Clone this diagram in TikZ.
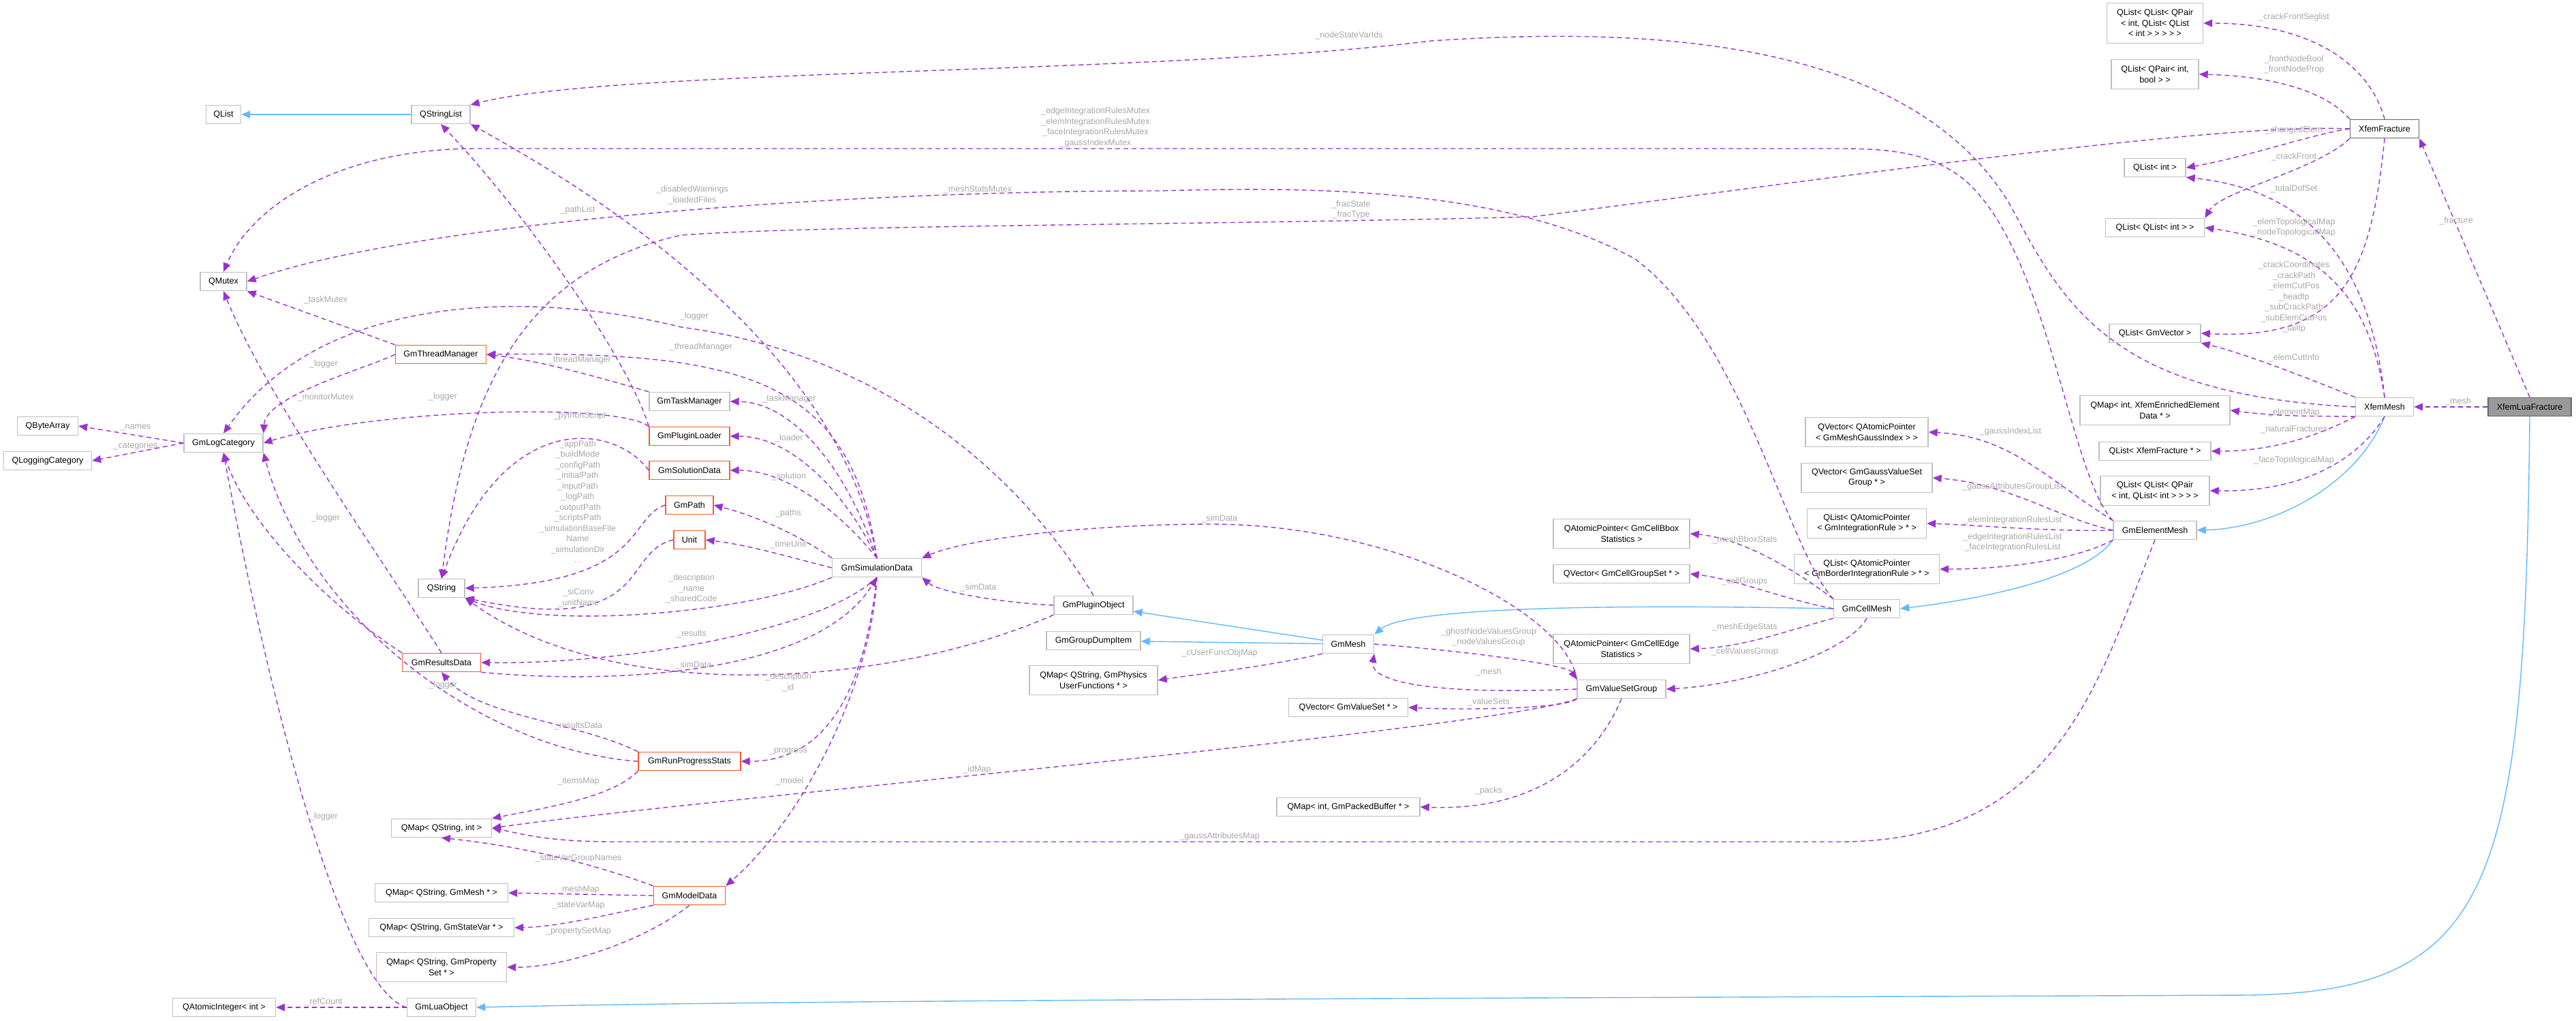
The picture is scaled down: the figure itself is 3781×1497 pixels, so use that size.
\documentclass[tikz,border=0pt]{standalone}
\usepackage{fontspec}
\newfontfamily\nf{Liberation Sans}
\usetikzlibrary{arrows.meta}
\definecolor{ep}{HTML}{9A32CD}
\definecolor{ib}{HTML}{63B8FF}
\definecolor{bg}{HTML}{BFBFBF}
\definecolor{tr}{HTML}{FF5A2A}
\definecolor{lg}{HTML}{A6A6A6}
\begin{document}
\begin{tikzpicture}[x=1pt,y=-1pt,
 box/.style={draw=bg,fill=white,line width=1.4,minimum height=27,inner sep=2,align=center,font=\nf\fontsize{12.5}{15.5}\selectfont},
 tb/.style={box,draw=tr},
 mem/.style={draw=ep,line width=1.4,dash pattern=on 7 off 5,-{Triangle[length=13,width=11]}},
 inh/.style={draw=ib,line width=1.4,-{Triangle[length=13,width=11]}},
 lb/.style={text=lg,align=center,inner sep=0,font=\nf\fontsize{12.5}{15.5}\selectfont}]
\useasboundingbox (0,0) rectangle (3781,1497);
% nodes
\node[box,minimum width=51] (qlist) at (328,168) {QList};
\node[box,minimum width=86] (qsl) at (647,168) {QStringList};
\node[box,minimum width=68] (qmx) at (328,413) {QMutex};
\node[tb,minimum width=133] (gtm) at (647,520) {GmThreadManager};
\node[box,minimum width=89] (qba) at (70,625) {QByteArray};
\node[box,minimum width=116] (gmlc) at (328,650) {GmLogCategory};
\node[box,minimum width=129] (qlc) at (70,676) {QLoggingCategory};
\node[box,minimum width=118] (gtk) at (1012,589) {GmTaskManager};
\node[tb,minimum width=118] (gpl) at (1012,640) {GmPluginLoader};
\node[tb,minimum width=118] (gsd) at (1012,690) {GmSolutionData};
\node[tb,minimum width=70] (gp) at (1012,741) {GmPath};
\node[tb,minimum width=46] (unit) at (1012,792) {Unit};
\node[box,minimum width=68] (qstr) at (648,863) {QString};
\node[box,minimum width=131] (gsim) at (1287,833) {GmSimulationData};
\node[tb,minimum width=115] (grd) at (648,972) {GmResultsData};
\node[tb,minimum width=150] (grps) at (1012,1117) {GmRunProgressStats};
\node[box,minimum width=147] (qmsi) at (648,1215) {QMap< QString, int >};
\node[tb,minimum width=105] (gmd) at (1012,1314) {GmModelData};
\node[box,minimum width=195] (qmm) at (648,1310) {QMap< QString, GmMesh * >};
\node[box,minimum width=213] (qmsv) at (648,1361) {QMap< QString, GmStateVar * >};
\node[box,minimum width=191,minimum height=43] (qmps) at (648,1419) {QMap< QString, GmProperty\\Set * >};
\node[box,minimum width=101] (glo) at (648,1478) {GmLuaObject};
\node[box,minimum width=151] (qai) at (329,1478) {QAtomicInteger< int >};
\node[box,minimum width=116] (gpo) at (1605,888) {GmPluginObject};
\node[box,minimum width=138] (ggdi) at (1605,940) {GmGroupDumpItem};
\node[box,minimum width=188,minimum height=43] (qmph) at (1605,998) {QMap< QString, GmPhysics\\UserFunctions * >};
\node[box,minimum width=75] (gmmesh) at (1979,945) {GmMesh};
\node[box,minimum width=175] (qvvs) at (1979,1038) {QVector< GmValueSet * >};
\node[box,minimum width=210] (qmpb) at (1979,1184) {QMap< int, GmPackedBuffer * >};
\node[box,minimum width=200,minimum height=43] (qapb) at (2380,783) {QAtomicPointer< GmCellBbox\\Statistics >};
\node[box,minimum width=200] (qvcg) at (2380,842) {QVector< GmCellGroupSet * >};
\node[box,minimum width=200,minimum height=43] (qape) at (2380,952) {QAtomicPointer< GmCellEdge\\Statistics >};
\node[box,minimum width=130] (gvsg) at (2380,1011) {GmValueSetGroup};
\node[box,minimum width=97] (gcm) at (2740,893) {GmCellMesh};
\node[box,minimum width=180,minimum height=43] (qvgi) at (2740,634) {QVector< QAtomicPointer\\< GmMeshGaussIndex > >};
\node[box,minimum width=192,minimum height=43] (qvgv) at (2740,701) {QVector< GmGaussValueSet\\Group * >};
\node[box,minimum width=175,minimum height=43] (qlir) at (2740,768) {QList< QAtomicPointer\\< GmIntegrationRule > * >};
\node[box,minimum width=213,minimum height=43] (qlbr) at (2740,835) {QList< QAtomicPointer\\< GmBorderIntegrationRule > * >};
\node[box,minimum width=122] (gem) at (3163,778) {GmElementMesh};
\node[box,minimum width=85] (xm) at (3500,597) {XfemMesh};
\node[box,minimum width=122,fill={rgb,255:red,153;green,153;blue,153},draw={rgb,255:red,102;green,102;blue,102}] (xlf) at (3713,597) {XfemLuaFracture};
\node[box,minimum width=101,draw={rgb,255:red,102;green,102;blue,102}] (xf) at (3500,189) {XfemFracture};
\node[box,minimum width=141,minimum height=59] (ql3) at (3163,34) {QList< QList< QPair\\< int, QList< QList\\< int > > > > >};
\node[box,minimum width=128,minimum height=43] (qlpb) at (3163,109) {QList< QPair< int,\\bool > >};
\node[box,minimum width=90] (qli) at (3163,246) {QList< int >};
\node[box,minimum width=145] (qlqli) at (3163,334) {QList< QList< int > >};
\node[box,minimum width=134] (qlgv) at (3163,489) {QList< GmVector >};
\node[box,minimum width=220,minimum height=43] (qmxe) at (3163,602) {QMap< int, XfemEnrichedElement\\Data * >};
\node[box,minimum width=164] (qlxf) at (3163,662) {QList< XfemFracture * >};
\node[box,minimum width=160,minimum height=43] (qlqp) at (3163,720) {QList< QList< QPair\\< int, QList< int > > > >};
% inheritance
\draw[inh] (qsl) -- (qlist);
\draw[inh] (gmmesh) -- (gpo);
\draw[inh] (gmmesh) -- (ggdi);
\draw[inh] (gcm.west) .. controls (2300,885) and (2060,895) .. (gmmesh.north east);
\draw[inh] (gem.south west) .. controls (3060,850) and (2900,880) .. (gcm.east);
\draw[inh] (xm.south) .. controls (3460,710) and (3340,775) .. (gem.east);
\draw[inh] (xlf.south) .. controls (3706,1300) and (3660,1455) .. (3300,1460) .. controls (2400,1464) and (1200,1466) .. (glo.east);
% members
\draw[mem] (gmlc.west) -- (qba.east);
\draw[mem] (gmlc.west) -- (qlc.east);
\draw[mem] (gtm.north west) -- (qmx.south east);
\draw[mem] (gtm.west) .. controls (540,540) and (390,580) .. (gmlc.north east);
\draw[mem] (grd.north) .. controls (560,820) and (390,580) .. (qmx.south);
\draw[mem] (grd.north west) .. controls (470,880) and (360,760) .. (gmlc.south);
\draw[mem] (gpl.north west) .. controls (910,590) and (550,600) .. (gmlc.east);
\draw[mem] (gpl.north west) .. controls (920,520) and (760,300) .. (qsl.south);
\draw[mem] (gsd.west) .. controls (900,620) and (740,600) .. (qstr.north);
\draw[mem] (gp.west) .. controls (920,760) and (950,855) .. (qstr.east);
\draw[mem] (unit.west) .. controls (910,810) and (960,935) .. (qstr.south east);
\draw[mem] (gsim.north) .. controls (1250,600) and (1050,380) .. (qsl.south east);
\draw[mem] (gsim.north) .. controls (1250,560) and (1100,515) .. (gtm.east);
\draw[mem] (gsim.north) .. controls (1240,680) and (1160,590) .. (gtk.east);
\draw[mem] (gsim.north) .. controls (1240,720) and (1160,640) .. (gpl.east);
\draw[mem] (gsim.north) .. controls (1240,760) and (1160,690) .. (gsd.east);
\draw[mem] (gsim.north west) .. controls (1180,790) and (1120,760) .. (gp.east);
\draw[mem] (gsim.west) .. controls (1150,815) and (1100,800) .. (unit.east);
\draw[mem] (gsim.south west) .. controls (1100,900) and (800,925) .. (qstr.south east);
\draw[mem] (gsim.south) .. controls (1200,930) and (900,975) .. (grd.east);
\draw[mem] (grd.south east) .. controls (900,1005) and (1200,990) .. (gsim.south);
\draw[mem] (gpo.south west) .. controls (1300,1010) and (900,1035) .. (qstr.south east);
\draw[mem] (gpo.west) .. controls (1480,885) and (1380,870) .. (gsim.south east);
\draw[mem] (gsim.south) .. controls (1280,1000) and (1180,1200) .. (gmd.north east);
\draw[mem] (gsim.south) .. controls (1270,1000) and (1220,1117) .. (grps.east);
\draw[mem] (gvsg.north west) .. controls (2300,900) and (2050,770) .. (1780,769) .. controls (1600,769) and (1420,790) .. (gsim.north east);
\draw[mem] (gpo.north) .. controls (1500,700) and (1300,520) .. (1000,480) .. controls (800,430) and (480,420) .. (gmlc.north);
\draw[mem] (gtk.north west) .. controls (900,560) and (800,530) .. (gtm.east);
\draw[mem] (glo.west) .. controls (500,1450) and (390,1000) .. (gmlc.south);
\draw[mem] (grps.west) .. controls (700,1100) and (450,900) .. (gmlc.south east);
\draw[mem] (grps.north west) .. controls (850,1060) and (700,1050) .. (grd.south);
\draw[mem] (grps.south west) .. controls (900,1170) and (800,1185) .. (qmsi.north east);
\draw[mem] (gvsg.south west) .. controls (2200,1070) and (1000,1175) .. (qmsi.east);
\draw[mem] (gem.south) .. controls (3080,1000) and (3020,1235) .. (2700,1235) -- (900,1235) .. controls (800,1235) and (760,1222) .. (qmsi.east);
\draw[mem] (gmd.north west) .. controls (850,1260) and (750,1240) .. (qmsi.south);
\draw[mem] (gmd.west) -- (qmm.east);
\draw[mem] (gmd.south west) .. controls (900,1340) and (820,1360) .. (qmsv.east);
\draw[mem] (gmd.south) .. controls (940,1385) and (820,1420) .. (qmps.east);
\draw[mem] (glo.west) -- (qai.east);
\draw[mem] (gmmesh.south west) .. controls (1850,980) and (1750,990) .. (qmph.east);
\draw[mem] (gmmesh.east) .. controls (2150,955) and (2300,975) .. (gvsg.north west);
\draw[mem] (gvsg.west) .. controls (2100,1020) and (2010,1000) .. (gmmesh.south east);
\draw[mem] (gvsg.south west) .. controls (2300,1040) and (2150,1042) .. (qvvs.east);
\draw[mem] (gvsg.south) .. controls (2340,1120) and (2250,1190) .. (qmpb.east);
\draw[mem] (gcm.north west) .. controls (2640,840) and (2560,790) .. (qapb.east);
\draw[mem] (gcm.west) .. controls (2620,880) and (2550,850) .. (qvcg.east);
\draw[mem] (gcm.south west) .. controls (2640,920) and (2560,950) .. (qape.east);
\draw[mem] (gcm.south) .. controls (2710,960) and (2560,1005) .. (gvsg.east);
\draw[mem] (gem.north west) .. controls (3000,700) and (2950,640) .. (qvgi.east);
\draw[mem] (gem.west) .. controls (3020,760) and (2950,710) .. (qvgv.east);
\draw[mem] (gem.west) .. controls (3000,780) and (2900,770) .. (qlir.east);
\draw[mem] (gem.south west) .. controls (3050,820) and (2950,835) .. (qlbr.east);
\draw[mem] (gem.north west) .. controls (3040,700) and (3010,400) .. (2900,280) .. controls (2850,225) and (2780,218) .. (2700,218) -- (700,218) .. controls (500,218) and (370,300) .. (qmx.north);
\draw[mem] (gcm.north west) .. controls (2620,800) and (2560,500) .. (2400,380) .. controls (2200,270) and (1900,275) .. (1700,280) .. controls (1200,280) and (600,330) .. (qmx.east);
\draw[mem] (xf.west) .. controls (3250,180) and (2700,260) .. (2250,318) .. controls (1800,330) and (1200,330) .. (1000,345) .. controls (750,400) and (680,600) .. (qstr.north);
\draw[mem] (xm.west) .. controls (3100,580) and (3030,450) .. (2950,300) .. controls (2800,50) and (2400,40) .. (2100,60) .. controls (1700,110) and (900,100) .. (qsl.north east);
\draw[mem] (xf.north) .. controls (3480,100) and (3400,34) .. (ql3.east);
\draw[mem] (xf.north west) .. controls (3420,140) and (3350,112) .. (qlpb.east);
\draw[mem] (xf.west) .. controls (3400,195) and (3300,230) .. (qli.east);
\draw[mem] (xf.south west) .. controls (3400,250) and (3260,280) .. (qlqli.north east);
\draw[mem] (xf.south) .. controls (3480,400) and (3440,500) .. (qlgv.east);
\draw[mem] (xm.north) .. controls (3480,400) and (3400,280) .. (qli.south east);
\draw[mem] (xm.north) .. controls (3480,450) and (3420,360) .. (qlqli.east);
\draw[mem] (xm.north west) .. controls (3400,560) and (3300,520) .. (qlgv.south east);
\draw[mem] (xm.south west) .. controls (3400,610) and (3350,612) .. (qmxe.east);
\draw[mem] (xm.south west) .. controls (3420,630) and (3350,662) .. (qlxf.east);
\draw[mem] (xm.south) .. controls (3470,660) and (3400,722) .. (qlqp.east);
\draw[mem] (xlf.west) -- (xm.east);
\draw[mem] (xlf.north) -- (xf.south east);
% labels
\node[lb] (l1) at (199,627) {\_names};
\node[lb] (l2) at (199,654) {\_categories};
\node[lb] (l3) at (478,440) {\_taskMutex};
\node[lb] (l4) at (475,534) {\_logger};
\node[lb] (l5) at (478,583) {\_monitorMutex};
\node[lb] (l6) at (650,582) {\_logger};
\node[lb] (l7) at (851,610) {\_pythonScript};
\node[lb] (l8) at (848,736) {\_appPath\\\_buildMode\\\_configPath\\\_initialPath\\\_inputPath\\\_logPath\\\_outputPath\\\_scriptsPath\\\_simulationBaseFile\\Name\\\_simulationDir\\...};
\node[lb] (l9) at (478,760) {\_logger};
\node[lb] (l10) at (848,308) {\_pathList};
\node[lb] (l11) at (1016,286) {\_disabledWarnings\\\_loadedFiles};
\node[lb] (l12) at (1435,278) {\_meshStatsMutex};
\node[lb] (l13) at (1983,308) {\_fracState\\\_fracType};
\node[lb] (l14) at (1608,187) {\_edgeIntegrationRulesMutex\\\_elemIntegrationRulesMutex\\\_faceIntegrationRulesMutex\\\_gaussIndexMutex};
\node[lb] (l15) at (1980,52) {\_nodeStateVarIds};
\node[lb] (l16) at (1019,464) {\_logger};
\node[lb] (l17) at (1029,509) {\_threadManager};
\node[lb] (l18) at (851,528) {\_threadManager};
\node[lb] (l19) at (1158,585) {\_taskManager};
\node[lb] (l20) at (1158,643) {\_loader};
\node[lb] (l21) at (1158,699) {\_solution};
\node[lb] (l22) at (1157,753) {\_paths};
\node[lb] (l23) at (1157,799) {\_timeUnit};
\node[lb] (l24) at (849,877) {\_siConv\\\_unitName};
\node[lb] (l25) at (1015,864) {\_description\\\_name\\\_sharedCode};
\node[lb] (l26) at (1015,930) {\_results};
\node[lb] (l27) at (1018,976) {\_simData};
\node[lb] (l28) at (1157,1001) {\_description\\\_id};
\node[lb] (l29) at (1436,862) {\_simData};
\node[lb] (l30) at (849,1065) {\_resultsData};
\node[lb] (l31) at (650,1005) {\_logger};
\node[lb] (l32) at (1157,1102) {\_progress};
\node[lb] (l33) at (1159,1146) {\_model};
\node[lb] (l34) at (849,1146) {\_itemsMap};
\node[lb] (l35) at (1434,1129) {\_idMap};
\node[lb] (l36) at (849,1259) {\_stateVarGroupNames};
\node[lb] (l37) at (849,1305) {\_meshMap};
\node[lb] (l38) at (849,1328) {\_stateVarMap};
\node[lb] (l39) at (849,1366) {\_propertySetMap};
\node[lb] (l40) at (475,1198) {\_logger};
\node[lb] (l41) at (475,1470) {\_refCount};
\node[lb] (l42) at (1790,761) {\_simData};
\node[lb] (l43) at (1790,958) {\_cUserFuncObjMap};
\node[lb] (l44) at (2185,935) {\_ghostNodeValuesGroup\\\_nodeValuesGroup};
\node[lb] (l45) at (2185,986) {\_mesh};
\node[lb] (l46) at (2185,1030) {\_valueSets};
\node[lb] (l47) at (2185,1160) {\_packs};
\node[lb] (l48) at (1790,1227) {\_gaussAttributesMap};
\node[lb] (l49) at (2561,792) {\_meshBboxStats};
\node[lb] (l50) at (2561,853) {\_cellGroups};
\node[lb] (l51) at (2561,920) {\_meshEdgeStats};
\node[lb] (l52) at (2561,956) {\_cellValuesGroup};
\node[lb] (l53) at (2951,633) {\_gaussIndexList};
\node[lb] (l54) at (2954,714) {\_gaussAttributesGroupList};
\node[lb] (l55) at (2954,763) {\_elemIntegrationRulesList};
\node[lb] (l56) at (2954,796) {\_edgeIntegrationRulesList\\\_faceIntegrationRulesList};
\node[lb] (l57) at (3367,25) {\_crackFrontSeglist};
\node[lb] (l58) at (3367,95) {\_frontNodeBool\\\_frontNodeProp};
\node[lb] (l59) at (3367,191) {\_changedElem};
\node[lb] (l60) at (3367,230) {\_crackFront};
\node[lb] (l61) at (3367,277) {\_totalDofSet};
\node[lb] (l62) at (3367,334) {\_elemTopologicalMap\\\_nodeTopologicalMap};
\node[lb] (l63) at (3367,436) {\_crackCoordinates\\\_crackPath\\\_elemCutPos\\\_headIp\\\_subCrackPath\\\_subElemCutPos\\\_tailIp};
\node[lb] (l64) at (3367,525) {\_elemCutInfo};
\node[lb] (l65) at (3367,605) {\_elementMap};
\node[lb] (l66) at (3367,630) {\_naturalFractures};
\node[lb] (l67) at (3367,675) {\_faceTopologicalMap};
\node[lb] (l68) at (3605,324) {\_fracture};
\node[lb] (l69) at (3608,589) {\_mesh};
\end{tikzpicture}
\end{document}
